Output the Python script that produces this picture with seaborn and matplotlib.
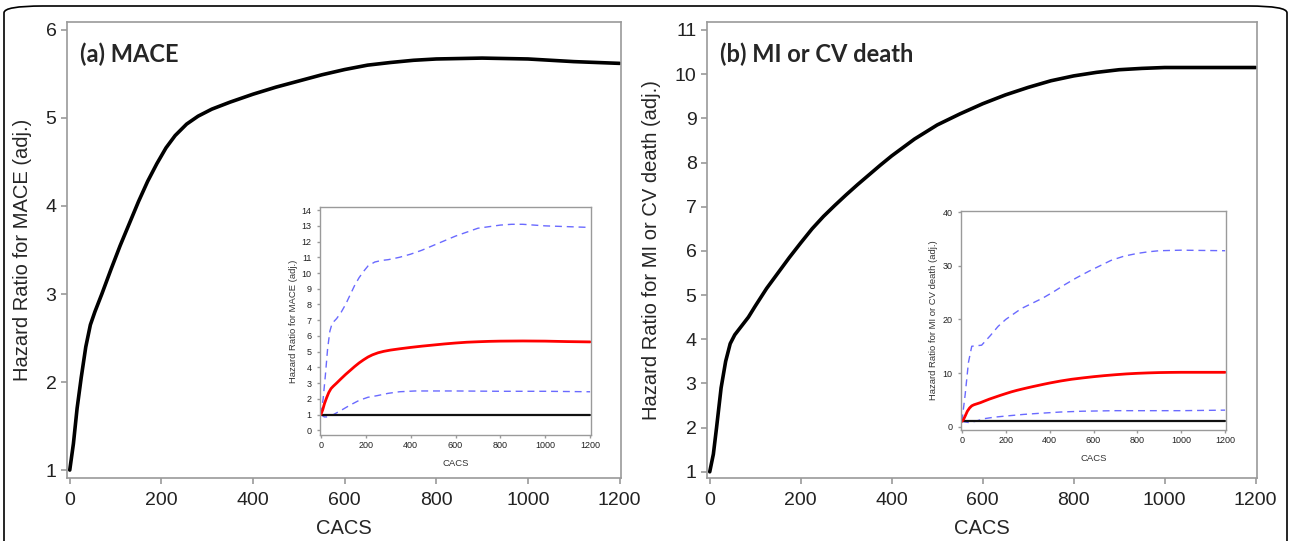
import matplotlib
matplotlib.use("Agg")
import matplotlib.pyplot as plt
from matplotlib.patches import FancyBboxPatch
import seaborn as sns

# === Panel (a) MACE: hazard ratio vs CACS ===
mace_x = [0, 8, 16, 25, 35, 45, 55, 70, 90, 110, 130, 150, 170, 190, 210, 230,
          255, 280, 310, 350, 400, 450, 500, 550, 600, 650, 700, 750, 800, 900,
          1000, 1100, 1200]
mace_hr = [1.0, 1.3, 1.7, 2.05, 2.4, 2.65, 2.8, 3.0, 3.28, 3.55, 3.8, 4.05, 4.28,
           4.48, 4.66, 4.8, 4.93, 5.02, 5.1, 5.18, 5.27, 5.35, 5.42, 5.49, 5.55,
           5.6, 5.63, 5.655, 5.67, 5.68, 5.67, 5.64, 5.62]

mace_up_x = [0, 10, 20, 30, 40, 50, 70, 90, 110, 130, 150, 170, 190, 210, 240,
             270, 300, 350, 400, 450, 500, 550, 600, 650, 700, 750, 800, 850,
             900, 950, 1000, 1100, 1200]
mace_up = [1.0, 2.0, 3.5, 5.2, 6.3, 6.8, 7.1, 7.5, 8.0, 8.6, 9.2, 9.7, 10.1,
           10.45, 10.7, 10.8, 10.85, 11.0, 11.2, 11.45, 11.75, 12.05, 12.35,
           12.6, 12.85, 12.95, 13.05, 13.1, 13.1, 13.05, 13.0, 12.95, 12.9]
mace_lo_x = [0, 15, 30, 50, 75, 100, 130, 170, 210, 250, 300, 350, 420, 600, 800,
             1000, 1200]
mace_lo = [1.0, 0.85, 0.85, 0.95, 1.15, 1.35, 1.6, 1.9, 2.1, 2.2, 2.35, 2.45, 2.5,
           2.5, 2.48, 2.48, 2.45]

# === Panel (b) MI or CV death ===
mi_x = [0, 8, 15, 25, 35, 45, 55, 70, 85, 100, 125, 150, 175, 200, 225, 250, 275,
        300, 325, 350, 375, 400, 450, 500, 550, 600, 650, 700, 750, 800, 850, 900,
        950, 1000, 1100, 1200]
mi_hr = [1.0, 1.4, 2.0, 2.9, 3.5, 3.9, 4.1, 4.3, 4.5, 4.75, 5.15, 5.5, 5.85, 6.18,
         6.5, 6.78, 7.03, 7.27, 7.5, 7.72, 7.94, 8.15, 8.53, 8.85, 9.1, 9.33, 9.53,
         9.7, 9.85, 9.96, 10.04, 10.1, 10.13, 10.15, 10.15, 10.15]

mi_up_x = [0, 15, 30, 45, 90, 130, 165, 200, 235, 270, 320, 370, 420, 470, 520,
           580, 630, 680, 740, 800, 850, 900, 1000, 1100, 1200]
mi_up = [1.0, 6.0, 12.0, 15.0, 15.2, 17.0, 18.7, 20.0, 21.0, 22.0, 23.0, 24.0,
         25.2, 26.5, 27.7, 29.0, 30.0, 31.0, 31.8, 32.3, 32.6, 32.8, 32.9, 32.85,
         32.8]
mi_lo_x = [0, 30, 60, 100, 150, 200, 280, 350, 450, 550, 700, 850, 1000, 1200]
mi_lo = [1.0, 0.8, 1.0, 1.5, 1.8, 2.0, 2.3, 2.5, 2.75, 2.9, 3.0, 3.0, 3.0, 3.1]

ref_x = [0, 1200]
ref_hr = [1.0, 1.0]

sns.set_style("ticks")
plt.rcParams['font.family'] = ['Liberation Sans', 'DejaVu Sans']

fig = plt.figure(figsize=(12.9, 5.41), dpi=100)

# rounded outer frame
frame = FancyBboxPatch((4 / 1290, -0.05), 1283 / 1290, 1.05 - 6 / 541,
                       boxstyle="round,pad=0,rounding_size=0.03",
                       transform=fig.transFigure, fill=False,
                       edgecolor='black', linewidth=1.2, mutation_aspect=541 / 1290)
fig.patches.append(frame)

spine_col = '#9a9a9a'


def style_axes(ax, tick_size, lw=1.2):
    for s in ax.spines.values():
        s.set_color(spine_col)
        s.set_linewidth(lw)
    ax.tick_params(colors=spine_col, labelcolor='#222222', labelsize=tick_size,
                   length=4 if tick_size > 8 else 2.5, width=lw)
    ax.tick_params(axis='x', pad=6 if tick_size > 8 else 2)


def draw_main(rect, x, y, ylim, yticks, ylabel, title):
    ax = fig.add_axes(rect)
    sns.lineplot(x=x, y=y, ax=ax, color='black', linewidth=2.6)
    ax.set_xlim(-6, 1203)
    ax.set_ylim(*ylim)
    ax.set_xticks(range(0, 1201, 200))
    ax.set_yticks(yticks)
    ax.set_xlabel("CACS", fontsize=14.5, labelpad=7)
    ax.set_ylabel(ylabel, fontsize=14.5, labelpad=10)
    style_axes(ax, 14)
    ax.text(0.024, 0.93, title, transform=ax.transAxes, fontsize=17,
            fontweight='bold', family=['Lato', 'DejaVu Sans'], va='center')
    return ax


def draw_inset(rect, rx, ry, ux, uy, lx, ly, ylim, yticks, ylabel):
    ax = fig.add_axes(rect)
    sns.lineplot(x=ux, y=uy, ax=ax, color='#6a6aff', linewidth=1.0,
                 linestyle=(0, (5, 3.5)))
    sns.lineplot(x=lx, y=ly, ax=ax, color='#6a6aff', linewidth=1.0,
                 linestyle=(0, (5, 3.5)))
    sns.lineplot(x=ref_x, y=ref_hr, ax=ax, color='#111111', linewidth=1.6)
    sns.lineplot(x=rx, y=ry, ax=ax, color='#ff0000', linewidth=2.0)
    ax.set_xlim(-4, 1204)
    ax.set_ylim(*ylim)
    ax.set_xticks(range(0, 1201, 200))
    ax.set_yticks(yticks)
    ax.set_xlabel("CACS", fontsize=6.8, labelpad=6, color='#333333')
    ax.set_ylabel(ylabel, fontsize=6.8, labelpad=3, color='#333333')
    style_axes(ax, 6.5, lw=1.0)
    return ax


draw_main([67 / 1290, 1 - 478 / 541, 554 / 1290, 456 / 541], mace_x, mace_hr,
          (0.91, 6.09), range(1, 7), "Hazard Ratio for MACE (adj.)", "(a) MACE")
draw_main([707 / 1290, 1 - 478 / 541, 550 / 1290, 456 / 541], mi_x, mi_hr,
          (0.86, 11.18), range(1, 12), "Hazard Ratio for MI or CV death (adj.)",
          "(b) MI or CV death")

draw_inset([320 / 1290, 1 - 435 / 541, 271 / 1290, 228 / 541], mace_x, mace_hr,
           mace_up_x, mace_up, mace_lo_x, mace_lo, (-0.3, 14.2), range(0, 15),
           "Hazard Ratio for MACE (adj.)")
draw_inset([961 / 1290, 1 - 430 / 541, 265 / 1290, 219 / 541], mi_x, mi_hr,
           mi_up_x, mi_up, mi_lo_x, mi_lo, (-0.6, 40.2), range(0, 41, 10),
           "Hazard Ratio for MI or CV death (adj.)")

fig.savefig("out.png", dpi=100)
